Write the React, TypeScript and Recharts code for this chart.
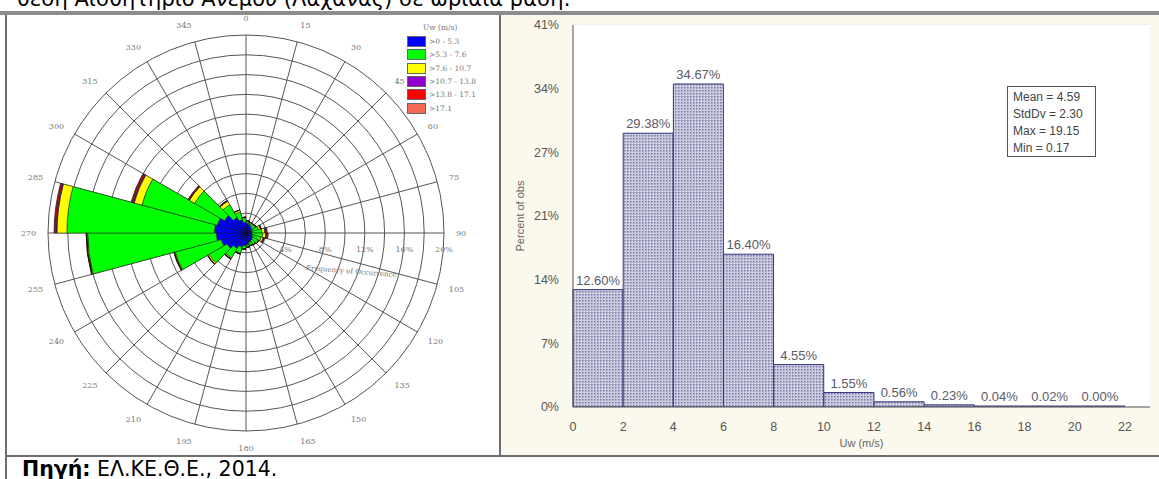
import React from 'react';
import {
  RadarChart,
  Radar,
  RadialBarChart,
  RadialBar,
  PolarGrid,
  PolarAngleAxis,
  PolarRadiusAxis,
  ComposedChart,
  Bar,
  XAxis,
  YAxis,
  CartesianGrid,
  LabelList,
} from 'recharts';

// wind rose: 15 deg sectors, each starting at the bearing below
const bearings = [0, 15, 30, 45, 60, 75, 90, 105, 120, 135, 150, 165, 180, 195, 210, 225, 240, 255, 270, 285, 300, 315, 330, 345];
const speedClasses = ['>0 - 5.3', '>5.3 - 7.6', '>7.6 - 10.7', '>10.7 - 13.8', '>13.8 - 17.1', '>17.1'];
const classColors = ['#0000ff', '#00ff00', '#ffff00', '#8f00cc', '#ff0000', '#f26a52'];
// frequency of occurrence (%) per sector and speed class
const freqBlue = [1.0, 0.9, 0.8, 0.7, 0.6, 0.6, 0.6, 0.7, 0.8, 0.9, 1.0, 1.2, 1.3, 1.5, 1.8, 2.2, 2.6, 3.0, 3.2, 3.0, 2.5, 1.8, 1.4, 1.1];
const freqGreen = [0.2, 0.2, 0.3, 0.4, 0.7, 1.0, 1.1, 0.9, 0.6, 0.4, 0.3, 0.2, 0.3, 0.6, 1.1, 2.1, 4.8, 13.0, 14.9, 7.9, 3.5, 1.5, 0.8, 0.4];
const freqYellow = [0.05, 0.05, 0.05, 0.1, 0.2, 0.3, 0.3, 0.2, 0.1, 0.1, 0.05, 0.05, 0.05, 0.1, 0.1, 0.15, 0.1, 0.1, 1.0, 0.8, 0.6, 0.4, 0.2, 0.1];
const freqPurple = [0, 0, 0, 0, 0.05, 0.1, 0.1, 0.05, 0, 0, 0, 0, 0, 0, 0.05, 0.05, 0, 0, 0.1, 0.1, 0.05, 0.05, 0, 0];
const freqRed = [0, 0, 0, 0, 0.05, 0.1, 0.1, 0.05, 0, 0, 0, 0, 0, 0, 0, 0, 0.05, 0.05, 0.15, 0.15, 0.1, 0.05, 0, 0];
const freqSalmon = [0, 0, 0, 0, 0, 0.05, 0.05, 0, 0, 0, 0, 0, 0, 0, 0, 0, 0, 0, 0.05, 0.05, 0, 0, 0, 0];
const ringTicks = [0, 2, 4, 6, 8, 10, 12, 14, 16, 18, 20];

// histogram of wind speed
const binStarts = [0, 2, 4, 6, 8, 10, 12, 14, 16, 18, 20];
const binPercent = [12.6, 29.38, 34.67, 16.4, 4.55, 1.55, 0.56, 0.23, 0.04, 0.02, 0.0];
const speedTicks = [0, 2, 4, 6, 8, 10, 12, 14, 16, 18, 20, 22];
const pctTickLabels = ['0%', '7%', '14%', '21%', '27%', '34%', '41%'];
const pctMax = 41;
const statLines = ['Mean = 4.59', 'StdDv = 2.30', 'Max = 19.15', 'Min = 0.17'];

const classSeries = [freqBlue, freqGreen, freqYellow, freqPurple, freqRed, freqSalmon];
const roseData = bearings.map((b, i) => {
  const row: Record<string, number> = { dir: b };
  classSeries.forEach((s, k) => (row['c' + k] = s[i]));
  return row;
});
const histData = binStarts.map((lo, i) => ({ bin: `${lo}-${lo + 2}`, lo, pct: binPercent[i] }));
const pctTicks = pctTickLabels.map((_, i) => (i * pctMax) / (pctTickLabels.length - 1));

const serif = "'DejaVu Serif', 'Liberation Serif', serif";
const ROSE = { cx: 240, cy: 218, r: 198 };

function DirTick(props: any) {
  const { x, y, payload, textAnchor } = props;
  // push labels at the top/bottom a bit further out, like the original plot
  const a = ((payload.coordinate ?? 0) * Math.PI) / 180;
  const dy = 3 - 5 * Math.sin(a);
  return (
    <text x={x} y={y} dy={dy} textAnchor={textAnchor} fontSize={8} fill="#777" fontFamily={serif}>
      {payload.value}
    </text>
  );
}

function RingTick(props: any) {
  const { x, y, payload } = props;
  const v = payload.value;
  if (!v || v % 4 !== 0) return <g />;
  return (
    <text x={x} y={y + 19} textAnchor="middle" fontSize={8} fill="#777" fontFamily={serif}>
      {v + '%'}
    </text>
  );
}

function WindRose() {
  const layer: React.CSSProperties = { position: 'absolute', left: 0, top: 0 };
  return (
    <div style={{ position: 'absolute', left: 6, top: 15, width: 492, height: 440, background: '#fff' }}>
      {/* grid, bearings and ring labels */}
      <div style={layer}>
        <RadarChart width={492} height={440} data={roseData} cx={ROSE.cx} cy={ROSE.cy} outerRadius={ROSE.r}>
          <PolarGrid gridType="circle" stroke="#555" />
          <PolarAngleAxis dataKey="dir" tick={DirTick} tickSize={12} axisLine={false} tickLine={false} />
          <PolarRadiusAxis
            type="number"
            domain={[0, 20]}
            allowDataOverflow
            ticks={ringTicks}
            angle={0}
            axisLine={false}
            tickLine={false}
            tick={RingTick}
          />
          <Radar dataKey="c0" fill="none" stroke="none" dot={false} isAnimationActive={false} />
          <text x={300} y={255} fontSize={7} fill="#777" fontFamily={serif} transform="rotate(4.5 300 255)">
            Frequency of Occurrence
          </text>
        </RadarChart>
      </div>
      {/* stacked sectors, shifted so each one spans bearing .. bearing+15 */}
      <div style={layer}>
        <RadialBarChart
          width={492}
          height={440}
          data={roseData}
          layout="centric"
          cx={ROSE.cx}
          cy={ROSE.cy}
          innerRadius={0}
          outerRadius={ROSE.r}
          startAngle={75}
          endAngle={-285}
          barCategoryGap={0}
          barGap={0}
        >
          <PolarAngleAxis dataKey="dir" type="category" tick={false} axisLine={false} tickLine={false} />
          <PolarRadiusAxis type="number" domain={[0, 20]} tick={false} axisLine={false} tickLine={false} />
          {speedClasses.map((name, k) => (
            <RadialBar
              key={name}
              name={name}
              dataKey={'c' + k}
              stackId="rose"
              fill={classColors[k]}
              stroke="#111"
              strokeWidth={0.5}
              isAnimationActive={false}
            />
          ))}
        </RadialBarChart>
      </div>
      <div style={{ position: 'absolute', left: 401, top: 8, fontFamily: serif, fontSize: 7.5, color: '#777' }}>
        <div style={{ marginLeft: 16, height: 12 }}>Uw (m/s)</div>
        {speedClasses.map((name, k) => (
          <div key={name} style={{ display: 'flex', alignItems: 'center', height: 13.3 }}>
            <span
              style={{
                display: 'inline-block',
                width: 17,
                height: 9,
                background: classColors[k],
                border: '1px solid #666',
                marginRight: 3,
              }}
            />
            {name}
          </div>
        ))}
      </div>
    </div>
  );
}

function Histogram() {
  const sans = "'Liberation Sans', Arial, sans-serif";
  return (
    <div style={{ position: 'absolute', left: 501, top: 15, width: 658, height: 440, background: '#fbf9ee', fontFamily: sans }}>
      <ComposedChart
        width={658}
        height={440}
        data={histData}
        margin={{ top: 10, right: 9, bottom: 8, left: 0 }}
        barCategoryGap={0}
        barGap={0}
      >
        <defs>
          <pattern id="dots" width="3" height="3" patternUnits="userSpaceOnUse">
            <rect width="3" height="3" fill="#cdcde0" />
            <rect width="1.5" height="1.5" fill="#7a7aa8" />
          </pattern>
        </defs>
        <rect x={72} y={10} width={577} height={382} fill="#fff" />
        <CartesianGrid vertical={false} stroke="#e3e3e3" xAxisId="num" />
        <XAxis xAxisId="bins" dataKey="bin" type="category" hide height={0} padding={{ left: 0, right: 25 }} />
        <XAxis
          xAxisId="num"
          dataKey="lo"
          type="number"
          domain={[0, 23]}
          allowDataOverflow
          ticks={speedTicks}
          interval={0}
          height={40}
          stroke="#555"
          tickLine={false}
          tickMargin={9}
          tick={{ fontSize: 12.5, fill: '#555' }}
          label={{ value: 'Uw (m/s)', position: 'insideBottom', offset: 0, fontSize: 11, fill: '#666' }}
        />
        <XAxis
          xAxisId="top"
          dataKey="lo"
          orientation="top"
          type="number"
          domain={[0, 23]}
          allowDataOverflow
          ticks={speedTicks}
          interval={0}
          height={0}
          mirror
          stroke="#555"
          tickSize={4}
          tickFormatter={() => ''}
        />
        <YAxis
          type="number"
          domain={[0, pctMax]}
          allowDataOverflow
          ticks={pctTicks}
          interval={0}
          width={72}
          stroke="#555"
          tickLine={false}
          tickMargin={8}
          tick={{ fontSize: 12.5, fill: '#555' }}
          tickFormatter={(v: number) => pctTickLabels[Math.round((v * (pctTickLabels.length - 1)) / pctMax)]}
          label={{ value: 'Percent of obs', angle: -90, position: 'insideLeft', offset: 19, fontSize: 11, fill: '#666', style: { textAnchor: 'middle' } }}
        />
        <YAxis
          yAxisId="right"
          orientation="right"
          type="number"
          domain={[0, pctMax]}
          allowDataOverflow
          ticks={pctTicks}
          interval={0}
          width={0}
          mirror
          stroke="#555"
          tickSize={4}
          tickFormatter={() => ''}
        />
        <Bar
          xAxisId="bins"
          dataKey="pct"
          fill="url(#dots)"
          stroke="#34347c"
          strokeWidth={1}
          minPointSize={1}
          isAnimationActive={false}
        >
          <LabelList
            dataKey="pct"
            position="top"
            fontSize={13}
            fill="#5a5a66"
            formatter={(v: any) => Number(v).toFixed(2) + '%'}
          />
        </Bar>
      </ComposedChart>
      <div
        style={{
          position: 'absolute',
          left: 506,
          top: 71,
          width: 89,
          height: 71,
          border: '1px solid #555',
          background: '#fff',
          fontSize: 12,
          lineHeight: '17px',
          color: '#444',
          padding: '2px 0 0 5px',
          boxSizing: 'border-box',
        }}
      >
        {statLines.map((s) => (
          <div key={s}>{s}</div>
        ))}
      </div>
    </div>
  );
}

export default function App() {
  const doc = "'DejaVu Sans', sans-serif";
  return (
    <div style={{ position: 'absolute', left: 0, top: 0, width: 1159, height: 479, overflow: 'hidden', background: '#fff' }}>
      <div style={{ position: 'absolute', left: 17, top: -11, fontFamily: doc, fontSize: 21, lineHeight: '20px', whiteSpace: 'nowrap', color: '#000' }}>
        θέση Αισθητήριο Ανέμου (Λαχανάς) σε ωριαία βάση.
      </div>
      <div style={{ position: 'absolute', left: 0, top: 11, width: 1159, height: 4, background: '#8c8c8c' }} />
      <WindRose />
      <Histogram />
      <div style={{ position: 'absolute', left: 5, top: 15, width: 1.5, height: 464, background: '#6e6e6e' }} />
      <div style={{ position: 'absolute', left: 499, top: 15, width: 1.5, height: 441, background: '#6e6e6e' }} />
      <div style={{ position: 'absolute', left: 5, top: 455, width: 1154, height: 1.5, background: '#6e6e6e' }} />
      <div style={{ position: 'absolute', left: 22, top: 458, fontFamily: doc, fontSize: 20.5, lineHeight: '22px', whiteSpace: 'nowrap', color: '#000' }}>
        <b>Πηγή:</b> ΕΛ.ΚΕ.Θ.Ε., 2014.
      </div>
    </div>
  );
}
